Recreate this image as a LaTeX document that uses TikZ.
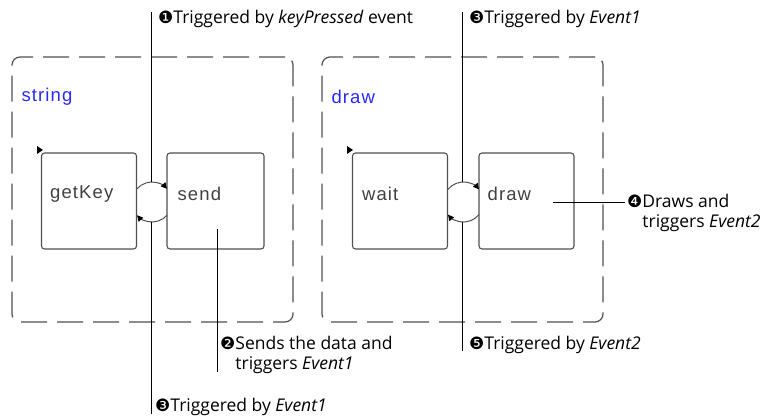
\documentclass[tikz,border=0pt]{standalone}
\usepackage{fontspec}
\setmainfont{Open Sans}
\newfontfamily\boxfont[LetterSpace=6]{Liberation Sans}
\newfontfamily\numfont{DejaVu Sans}
\usetikzlibrary{arrows.meta}
\definecolor{framegray}{RGB}{80,80,80}
\definecolor{namecolor}{RGB}{40,40,255}
\newcommand{\stepno}[1]{{\numfont\fontsize{17}{17}\selectfont #1}}

\begin{document}
\begin{tikzpicture}[x=1pt,y=1pt,
  container/.style={draw=framegray, line width=1.2pt, dash pattern=on 26pt off 10pt,
    rounded corners=8pt, minimum width=281pt, minimum height=265pt, inner sep=0pt},
  statebox/.style={draw=framegray, line width=1.1pt, rounded corners=3pt,
    minimum width=95pt, minimum height=96pt, inner sep=0pt},
  statename/.style={anchor=west, inner sep=0pt, text=black!75,
    font=\boxfont\fontsize{18.5}{20}\selectfont},
  groupname/.style={anchor=west, inner sep=0pt, text=namecolor,
    font=\boxfont\fontsize{18.5}{20}\selectfont},
  note/.style={anchor=base west, inner sep=0pt, font=\fontsize{17.5}{20}\selectfont, align=left},
  leader/.style={draw=black, line width=0.9pt},
  turn/.style={draw=framegray, line width=1pt, -{Triangle[length=6pt,width=6pt,color=black]}}
]
\useasboundingbox (0,0) rectangle (772,418);

% ---- containers ----
\node[container] (stringC) at (152.5,228.5) {};
\node[container] (drawC)   at (462.5,228.5) {};
\node[groupname] (stringT) at ([xshift=10pt,yshift=-40pt]stringC.north west) {string};
\node[groupname] (drawT)   at ([xshift=10pt,yshift=-40pt]drawC.north west) {draw};

% ---- states ----
\node[statebox] (getKey) at (89,217) {};
\node[statebox, minimum width=97pt] (send) at (215.5,217) {};
\node[statebox] (wait) at (400,217) {};
\node[statebox] (drawS) at (526.5,217) {};
\node[statename] (getKeyT) at ([xshift=9pt,yshift=7pt]getKey.west) {getKey};
\node[statename] (sendT)   at ([xshift=11pt,yshift=7pt]send.west) {send};
\node[statename] (waitT)   at ([xshift=10pt,yshift=7pt]wait.west) {wait};
\node[statename] (drawST)  at ([xshift=9pt,yshift=7pt]drawS.west) {draw};

% initial-state markers
\fill (37,272) -- (43,268) -- (37,264) -- cycle;
\fill (347,272) -- (353,268) -- (347,264) -- cycle;

% ---- transition loops ----
\coordinate (c1) at (152,216);
\coordinate (c2) at (463.5,216);
\draw[turn] ([shift={(138.6:20)}]c1) arc[start angle=138.6, end angle=41.4, radius=20];
\draw[turn] ([shift={(-41.4:20)}]c1) arc[start angle=-41.4, end angle=-138.6, radius=20];
\draw[turn] ([shift={(140.9:20)}]c2) arc[start angle=140.9, end angle=39.1, radius=20];
\draw[turn] ([shift={(-39.1:20)}]c2) arc[start angle=-39.1, end angle=-140.9, radius=20];

% ---- annotations ----
\node[note] (n1)  at (158,394) {\stepno{❶}Triggered by \textit{keyPressed} event};
\node[note] (n3a) at (469,394) {\stepno{❸}Triggered by \textit{Event1}};
\node[note] (n2)  at (220,68) {\begin{tabular}[t]{@{}l@{}l@{}}\stepno{❷}&Sends the data and\\ &triggers \textit{Event1}\end{tabular}};
\node[note] (n5)  at (469,68) {\stepno{❺}Triggered by \textit{Event2}};
\node[note] (n3b) at (155,6) {\stepno{❸}Triggered by \textit{Event1}};
\node[note] (n4)  at (627,210) {\begin{tabular}[t]{@{}l@{}l@{}}\stepno{❹}&Draws and\\ &triggers \textit{Event2}\end{tabular}};

% ---- leader lines ----
\coordinate (t1) at (151,406);
\coordinate (b1) at (151,4);
\coordinate (s1) at (217,189);
\coordinate (s2) at (217,46);
\coordinate (t2) at (462,406);
\coordinate (b2) at (462,67);
\coordinate (d1) at (553,216);
\coordinate (d2) at (625,216);
\draw[leader] (t1) -- ([xshift=-1pt,yshift=20pt]c1);
\draw[leader] ([xshift=-1pt,yshift=-20pt]c1) -- (b1);
\draw[leader] (s1) -- (s2);
\draw[leader] (t2) -- ([xshift=-1.5pt,yshift=20pt]c2);
\draw[leader] ([xshift=-1.5pt,yshift=-20pt]c2) -- (b2);
\draw[leader] (d1) -- (d2);
\end{tikzpicture}
\end{document}
